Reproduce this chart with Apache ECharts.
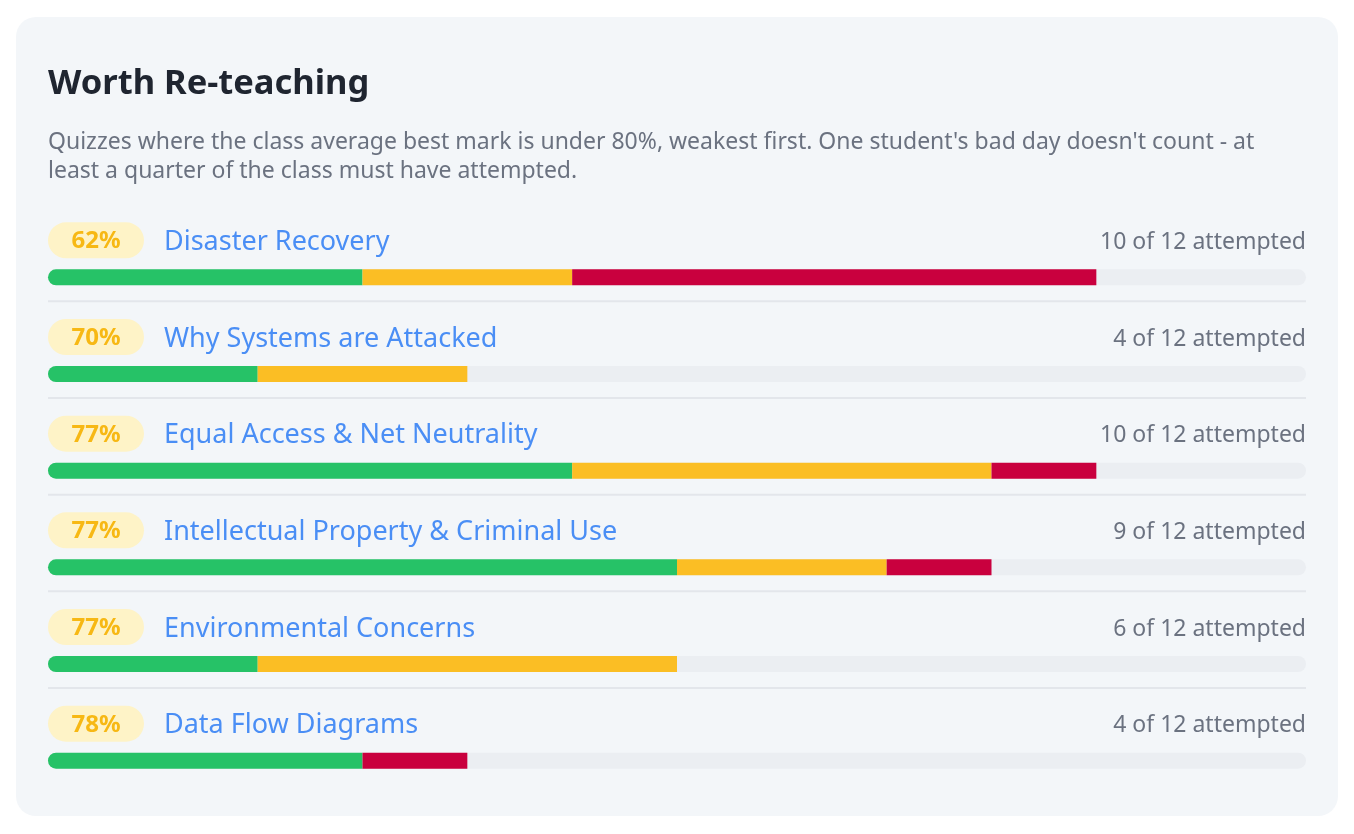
<!DOCTYPE html>
<html>
<head>
<meta charset="utf-8">
<title>Worth Re-teaching</title>
<script src="https://cdn.jsdelivr.net/npm/echarts@6/dist/echarts.min.js"></script>
<style>
  html, body { margin: 0; padding: 0; background: #ffffff; }
  #chart { width: 1354px; height: 834px; }
</style>
</head>
<body>
<div id="chart"></div>
<script>
// quiz rows, weakest first
const quizNames = [
  'Disaster Recovery',
  'Why Systems are Attacked',
  'Equal Access & Net Neutrality',
  'Intellectual Property & Criminal Use',
  'Environmental Concerns',
  'Data Flow Diagrams'
];
const avgScores = [62, 70, 77, 77, 77, 78];
const attempted = [10, 4, 10, 9, 6, 4];
const classSize = 12;

// students per band (good / ok / weak)
const greenCounts = [3, 2, 5, 6, 2, 3];
const amberCounts = [2, 2, 4, 2, 4, 0];
const redCounts = [5, 0, 1, 1, 0, 1];

const FONT = '"Noto Sans", "Open Sans", sans-serif';

const chart = echarts.init(document.getElementById('chart'), null, { renderer: 'canvas' });

// badges, names, counts and separators above each bar
function renderRow(params, api) {
  const i = params.dataIndex;
  const left = api.coord([0, api.value(1)]);
  const right = api.coord([classSize, api.value(1)]);
  const cy = left[1];
  const ty = cy - 35;
  const children = [
    {
      type: 'rect',
      shape: { x: left[0], y: cy - 55, width: 96, height: 36, r: 18 },
      style: { fill: '#fef3c7' }
    },
    {
      type: 'text',
      style: {
        x: left[0] + 48, y: cy - 36, text: avgScores[i] + '%',
        align: 'center', verticalAlign: 'middle',
        font: 'bold 24px ' + FONT, fill: '#f7b814'
      }
    },
    {
      type: 'text',
      style: {
        x: left[0] + 116, y: ty, text: quizNames[i],
        verticalAlign: 'middle', font: '27px ' + FONT, fill: '#4a8ef5'
      }
    },
    {
      type: 'text',
      style: {
        x: right[0], y: ty, text: attempted[i] + ' of ' + classSize + ' attempted',
        align: 'right', verticalAlign: 'middle', font: '23px ' + FONT, fill: '#6b7280'
      }
    }
  ];
  if (i < quizNames.length - 1) {
    children.push({
      type: 'line',
      shape: { x1: left[0], y1: cy + 24, x2: right[0], y2: cy + 24 },
      style: { stroke: '#e3e6eb', lineWidth: 2 }
    });
  }
  return { type: 'group', children: children };
}

const option = {
  animation: false,
  backgroundColor: '#ffffff',
  textStyle: { fontFamily: FONT },
  title: {
    text: 'Worth Re-teaching',
    left: 48,
    top: 67,
    padding: 0,
    textStyle: { fontSize: 34.5, fontWeight: 'bold', color: '#1f2530', fontFamily: FONT }
  },
  graphic: [
    {
      type: 'rect',
      z: -10,
      shape: { x: 16, y: 17, width: 1322, height: 799, r: 20 },
      style: { fill: '#f3f6f9' }
    },
    {
      type: 'text',
      left: 48,
      top: 128,
      style: {
        text: "Quizzes where the class average best mark is under 80%, weakest first. One student's bad day doesn't count - at\nleast a quarter of the class must have attempted.",
        font: '23px ' + FONT,
        lineHeight: 29,
        fill: '#6b7280'
      }
    }
  ],
  grid: { left: 48, right: 48, top: 229, bottom: 25, containLabel: false },
  xAxis: {
    type: 'value', min: 0, max: classSize, show: false
  },
  yAxis: {
    type: 'category', data: quizNames, inverse: true, show: false
  },
  series: [
    {
      name: 'green', type: 'bar', stack: 'total', barWidth: 16,
      data: greenCounts,
      itemStyle: { color: '#26c267', borderRadius: [8, 0, 0, 8] },
      showBackground: true,
      backgroundStyle: { color: '#ebeef2', borderRadius: 8 }
    },
    {
      name: 'amber', type: 'bar', stack: 'total', barWidth: 16,
      data: amberCounts,
      itemStyle: { color: '#fbbe24' }
    },
    {
      name: 'red', type: 'bar', stack: 'total', barWidth: 16,
      data: redCounts,
      itemStyle: { color: '#c9003e' }
    },
    {
      name: 'rows', type: 'custom',
      clip: false,
      encode: { x: 0, y: 1 },
      data: quizNames.map(function (n, i) { return [0, i]; }),
      renderItem: renderRow
    }
  ]
};

chart.setOption(option);
</script>
</body>
</html>
